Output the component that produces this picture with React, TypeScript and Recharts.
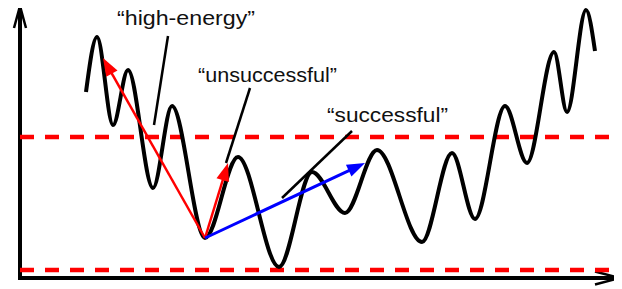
import { ComposedChart, Line, ReferenceDot, ReferenceLine, XAxis, YAxis } from "recharts";

// energy landscape (x: configuration, y: energy)
const pathX = [66, 77, 93, 108, 133, 152, 185, 218, 259, 292, 325, 357, 402, 432, 455, 485, 507, 534, 547, 566, 575];
const energy = [186, 241, 153, 208, 90, 172, 40, 121, 11, 106, 65, 128, 36, 125, 59, 172, 115, 226, 166, 268, 227];

const landscape = pathX.map((x, i) => ({ x, energy: energy[i] }));

// red dashed levels
const levels = [141, 8];
const levelEnd = 596;

// moves out of the minimum at (185, 40)
const moveStart = { x: 185, y: 40 };
const moveTips = [
	{ x: 83, y: 220, color: "#ff0000" },
	{ x: 208, y: 115, color: "#ff0000" },
	{ x: 345, y: 115, color: "#0000ff" },
];

const labelText = ["\u201chigh-energy\u201d", "\u201cunsuccessful\u201d", "\u201csuccessful\u201d"];
const labelPos = [
	{ x: 166, y: 253, w: 138 },
	{ x: 247.5, y: 196, w: 139 },
	{ x: 367.5, y: 156, w: 121 },
];
const pointers = [
	[{ x: 148, y: 242 }, { x: 134, y: 153 }],
	[{ x: 230, y: 190 }, { x: 206, y: 115 }],
	[{ x: 332, y: 147 }, { x: 262, y: 80 }],
];

const arrow =
	(color: string, width: number, len: number, half: number, open: boolean) =>
	(p: any) => {
		const { x1, y1, x2, y2 } = p;
		if ([x1, y1, x2, y2].some((v) => v == null || Number.isNaN(v))) return <g />;
		const dx = x2 - x1;
		const dy = y2 - y1;
		const d = Math.hypot(dx, dy) || 1;
		const ux = dx / d;
		const uy = dy / d;
		const bx = x2 - ux * len;
		const by = y2 - uy * len;
		const a = `${bx - uy * half},${by + ux * half}`;
		const b = `${bx + uy * half},${by - ux * half}`;
		if (open) {
			return (
				<g>
					<line x1={x1} y1={y1} x2={x2 - ux * 2} y2={y2 - uy * 2} stroke={color} strokeWidth={width} />
					<polyline points={`${a} ${x2},${y2} ${b}`} fill="none" stroke={color} strokeWidth={2.5} />
				</g>
			);
		}
		return (
			<g>
				<line x1={x1} y1={y1} x2={bx + ux * 2} y2={by + uy * 2} stroke={color} strokeWidth={width} />
				<polygon points={`${a} ${x2},${y2} ${b}`} fill={color} />
			</g>
		);
	};

export default function App() {
	return (
		<ComposedChart
			width={622}
			height={289}
			data={landscape}
			margin={{ top: 6, right: 2, bottom: 11, left: 20 }}
			style={{ marginLeft: -8, marginTop: -8 }}
		>
			<XAxis dataKey="x" type="number" domain={[0, 600]} hide />
			<YAxis type="number" domain={[0, 272]} hide />

			{/* axes */}
			<ReferenceLine
				segment={[{ x: 0, y: -2 }, { x: 0, y: 272 }]}
				ifOverflow="visible"
				shape={arrow("#000", 4, 22, 6, true)}
			/>
			<ReferenceLine
				segment={[{ x: -2, y: 0 }, { x: 600, y: 0 }]}
				ifOverflow="visible"
				shape={arrow("#000", 4, 25, 6.5, true)}
			/>

			{levels.map((lv) => (
				<ReferenceLine
					key={lv}
					segment={[{ x: 0, y: lv }, { x: levelEnd, y: lv }]}
					stroke="#ff0000"
					strokeWidth={4.5}
					strokeDasharray="14 11"
					ifOverflow="visible"
				/>
			))}

			<Line
				type="monotone"
				dataKey="energy"
				stroke="#000"
				strokeWidth={4}
				dot={false}
				isAnimationActive={false}
			/>

			{moveTips.map((t, i) => (
				<ReferenceLine
					key={i}
					segment={[moveStart, { x: t.x, y: t.y }]}
					ifOverflow="visible"
					shape={arrow(t.color, i === 2 ? 3 : 2.5, 18, 6.5, false)}
				/>
			))}

			{pointers.map((seg, i) => (
				<ReferenceLine
					key={`p${i}`}
					segment={seg}
					stroke="#000"
					strokeWidth={2.5}
					ifOverflow="visible"
				/>
			))}

			{labelText.map((txt, i) => (
				<ReferenceDot
					key={txt}
					x={labelPos[i].x}
					y={labelPos[i].y}
					r={0}
					ifOverflow="visible"
					shape={(p: any) => (
						<text
							x={p.cx}
							y={p.cy}
							textAnchor="middle"
							fontFamily="'Liberation Sans', Arial, sans-serif"
							fontSize={20}
							fill="#111"
							textLength={labelPos[i].w}
							lengthAdjust="spacingAndGlyphs"
						>
							{txt}
						</text>
					)}
				/>
			))}
		</ComposedChart>
	);
}
